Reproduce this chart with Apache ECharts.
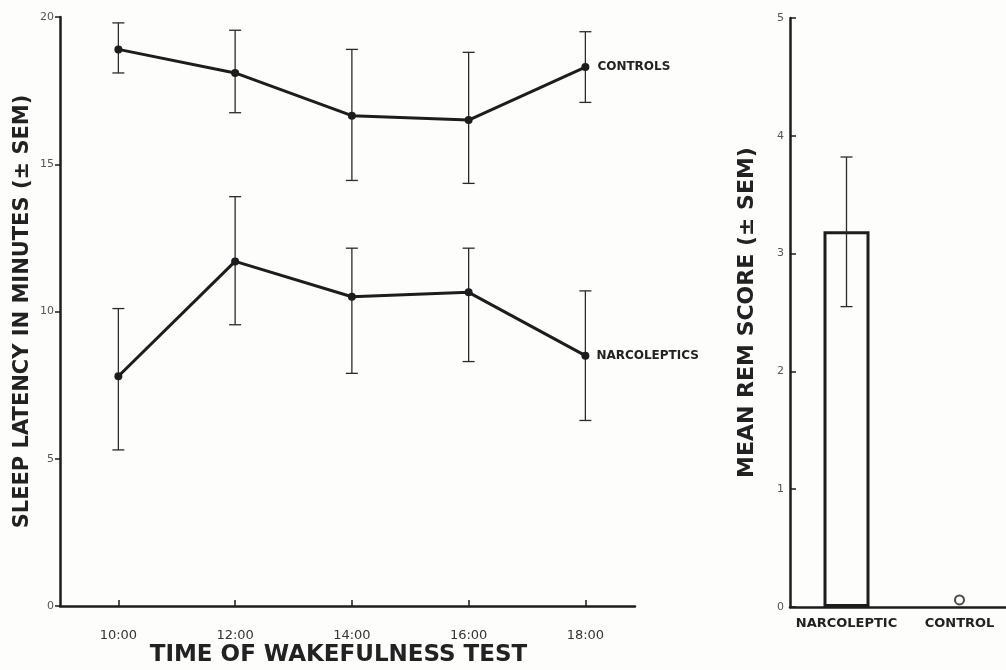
<!DOCTYPE html>
<html>
<head>
<meta charset="utf-8">
<script src="https://cdn.jsdelivr.net/npm/echarts@6/dist/echarts.min.js"></script>
<style>
html,body{margin:0;padding:0;background:#fdfdfb;}
#c{width:1006px;height:670px;}
</style>
</head>
<body>
<div id="c"></div>
<script>
// ---- data ----
var times = ['10:00', '12:00', '14:00', '16:00', '18:00'];
var yTicks = [0, 5, 10, 15, 20];
var controlsMean = [18.9, 18.1, 16.65, 16.5, 18.3];
var controlsLow = [18.1, 16.75, 14.45, 14.35, 17.1];
var controlsHigh = [19.8, 19.55, 18.9, 18.8, 19.5];
var narcMean = [7.8, 11.7, 10.5, 10.65, 8.5];
var narcLow = [5.3, 9.55, 7.9, 8.3, 6.3];
var narcHigh = [10.1, 13.9, 12.15, 12.15, 10.7];

var remGroups = ['NARCOLEPTIC', 'CONTROL'];
var remMean = [3.19, 0.06];
var remLow = [2.55, null];
var remHigh = [3.82, null];

// ---- helpers ----
function hourOf(t) { var p = t.split(':'); return +p[0] + (+p[1]) / 60; }
var hours = times.map(hourOf);
var INK = '#1d1d1d';

function pts(mean) { return hours.map(function (h, i) { return [h, mean[i]]; }); }
function errs(xs, lo, hi) {
  var out = [];
  xs.forEach(function (x, i) { if (lo[i] != null) out.push([x, lo[i], hi[i]]); });
  return out;
}
function errRender(params, api) {
  var x = api.value(0), lo = api.value(1), hi = api.value(2);
  var a = api.coord([x, lo]), b = api.coord([x, hi]);
  var w = 6;
  var st = { stroke: '#2a2a2a', lineWidth: 1.3 };
  return {
    type: 'group',
    children: [
      { type: 'line', shape: { x1: a[0], y1: a[1], x2: b[0], y2: b[1] }, style: st },
      { type: 'line', shape: { x1: a[0] - w, y1: a[1], x2: a[0] + w, y2: a[1] }, style: st },
      { type: 'line', shape: { x1: b[0] - w, y1: b[1], x2: b[0] + w, y2: b[1] }, style: st }
    ]
  };
}

function tstyle(size) { return { fontFamily: 'DejaVu Sans', fontWeight: 'bold', fontSize: size, color: '#222' }; }

var chart = echarts.init(document.getElementById('c'), null, { renderer: 'canvas' });
chart.setOption({
  animation: false,
  backgroundColor: '#fdfdfb',
  grid: [
    { left: 60, top: 17, width: 575, height: 589, outerBoundsMode: 'none' },
    { left: 790, top: 18, width: 226, height: 589, outerBoundsMode: 'none' }
  ],
  xAxis: [
    {
      gridIndex: 0, type: 'value', min: 9, max: 18.85,
      splitLine: { show: false },
      axisLine: { lineStyle: { color: INK, width: 2.5 } },
      axisTick: { show: true, inside: true, length: 6, customValues: hours, lineStyle: { color: INK, width: 1.5 } },
      axisLabel: {
        customValues: hours, margin: 23,
        fontFamily: 'DejaVu Sans', fontSize: 13, color: '#333',
        formatter: function (v) { var i = hours.indexOf(v); return i >= 0 ? times[i] : ''; }
      },
      name: 'TIME OF WAKEFULNESS TEST', nameLocation: 'middle', nameGap: 38, nameMoveOverlap: false,
      nameTextStyle: Object.assign({ padding: [0, 18, 0, 0] }, tstyle(23))
    },
    {
      gridIndex: 1, type: 'category', data: remGroups, boundaryGap: true,
      axisLine: { lineStyle: { color: INK, width: 2.5 } },
      axisTick: { show: false },
      axisLabel: { interval: 0, hideOverlap: false, margin: 10, fontFamily: 'DejaVu Sans', fontWeight: 'bold', fontSize: 13, color: '#222' }
    }
  ],
  yAxis: [
    {
      gridIndex: 0, type: 'value', min: 0, max: 20, interval: 5,
      splitLine: { show: false },
      axisLine: { show: true, lineStyle: { color: INK, width: 2.5 } },
      axisTick: { show: true, length: 5, lineStyle: { color: INK, width: 1.5 } },
      axisLabel: { margin: 6, fontFamily: 'DejaVu Sans', fontSize: 11, color: '#555' },
      name: 'SLEEP LATENCY IN MINUTES (± SEM)', nameLocation: 'middle', nameRotate: 90, nameGap: 27, nameMoveOverlap: false,
      nameTextStyle: tstyle(21)
    },
    {
      gridIndex: 1, type: 'value', min: 0, max: 5, interval: 1,
      splitLine: { show: false },
      axisLine: { show: true, lineStyle: { color: INK, width: 2.5 } },
      axisTick: { show: true, inside: true, length: 6, lineStyle: { color: INK, width: 1.5 } },
      axisLabel: { margin: 6, fontFamily: 'DejaVu Sans', fontSize: 11, color: '#555' },
      name: 'MEAN REM SCORE (± SEM)', nameLocation: 'middle', nameRotate: 90, nameGap: 32, nameMoveOverlap: false,
      nameTextStyle: tstyle(22)
    }
  ],
  series: [
    {
      type: 'custom', xAxisIndex: 0, yAxisIndex: 0, renderItem: errRender,
      data: errs(hours, controlsLow, controlsHigh), z: 1
    },
    {
      type: 'custom', xAxisIndex: 0, yAxisIndex: 0, renderItem: errRender,
      data: errs(hours, narcLow, narcHigh), z: 1
    },
    {
      name: 'CONTROLS', type: 'line', xAxisIndex: 0, yAxisIndex: 0, data: pts(controlsMean),
      symbol: 'circle', symbolSize: 8, z: 3,
      lineStyle: { color: INK, width: 3 }, itemStyle: { color: INK },
      endLabel: { show: true, formatter: 'CONTROLS', distance: 12, fontFamily: 'DejaVu Sans', fontWeight: 'bold', fontSize: 12, color: '#222' }
    },
    {
      name: 'NARCOLEPTICS', type: 'line', xAxisIndex: 0, yAxisIndex: 0, data: pts(narcMean),
      symbol: 'circle', symbolSize: 8, z: 3,
      lineStyle: { color: INK, width: 3 }, itemStyle: { color: INK },
      endLabel: { show: true, formatter: 'NARCOLEPTICS', distance: 11, fontFamily: 'DejaVu Sans', fontWeight: 'bold', fontSize: 12, color: '#222' }
    },
    {
      type: 'bar', xAxisIndex: 1, yAxisIndex: 1, barWidth: 46,
      data: remMean.map(function (v, i) { return remLow[i] != null ? v : '-'; }),
      itemStyle: { color: 'rgba(0,0,0,0)', borderColor: INK, borderWidth: 3 }
    },
    {
      type: 'scatter', xAxisIndex: 1, yAxisIndex: 1, symbol: 'emptyCircle', symbolSize: 9,
      data: remMean.map(function (v, i) { return remLow[i] == null ? v : '-'; }),
      itemStyle: { color: INK, borderWidth: 1.8 }
    },
    {
      type: 'custom', xAxisIndex: 1, yAxisIndex: 1, renderItem: errRender,
      data: errs(remGroups.map(function (g, i) { return i; }), remLow, remHigh), z: 5
    }
  ]
});
</script>
</body>
</html>
